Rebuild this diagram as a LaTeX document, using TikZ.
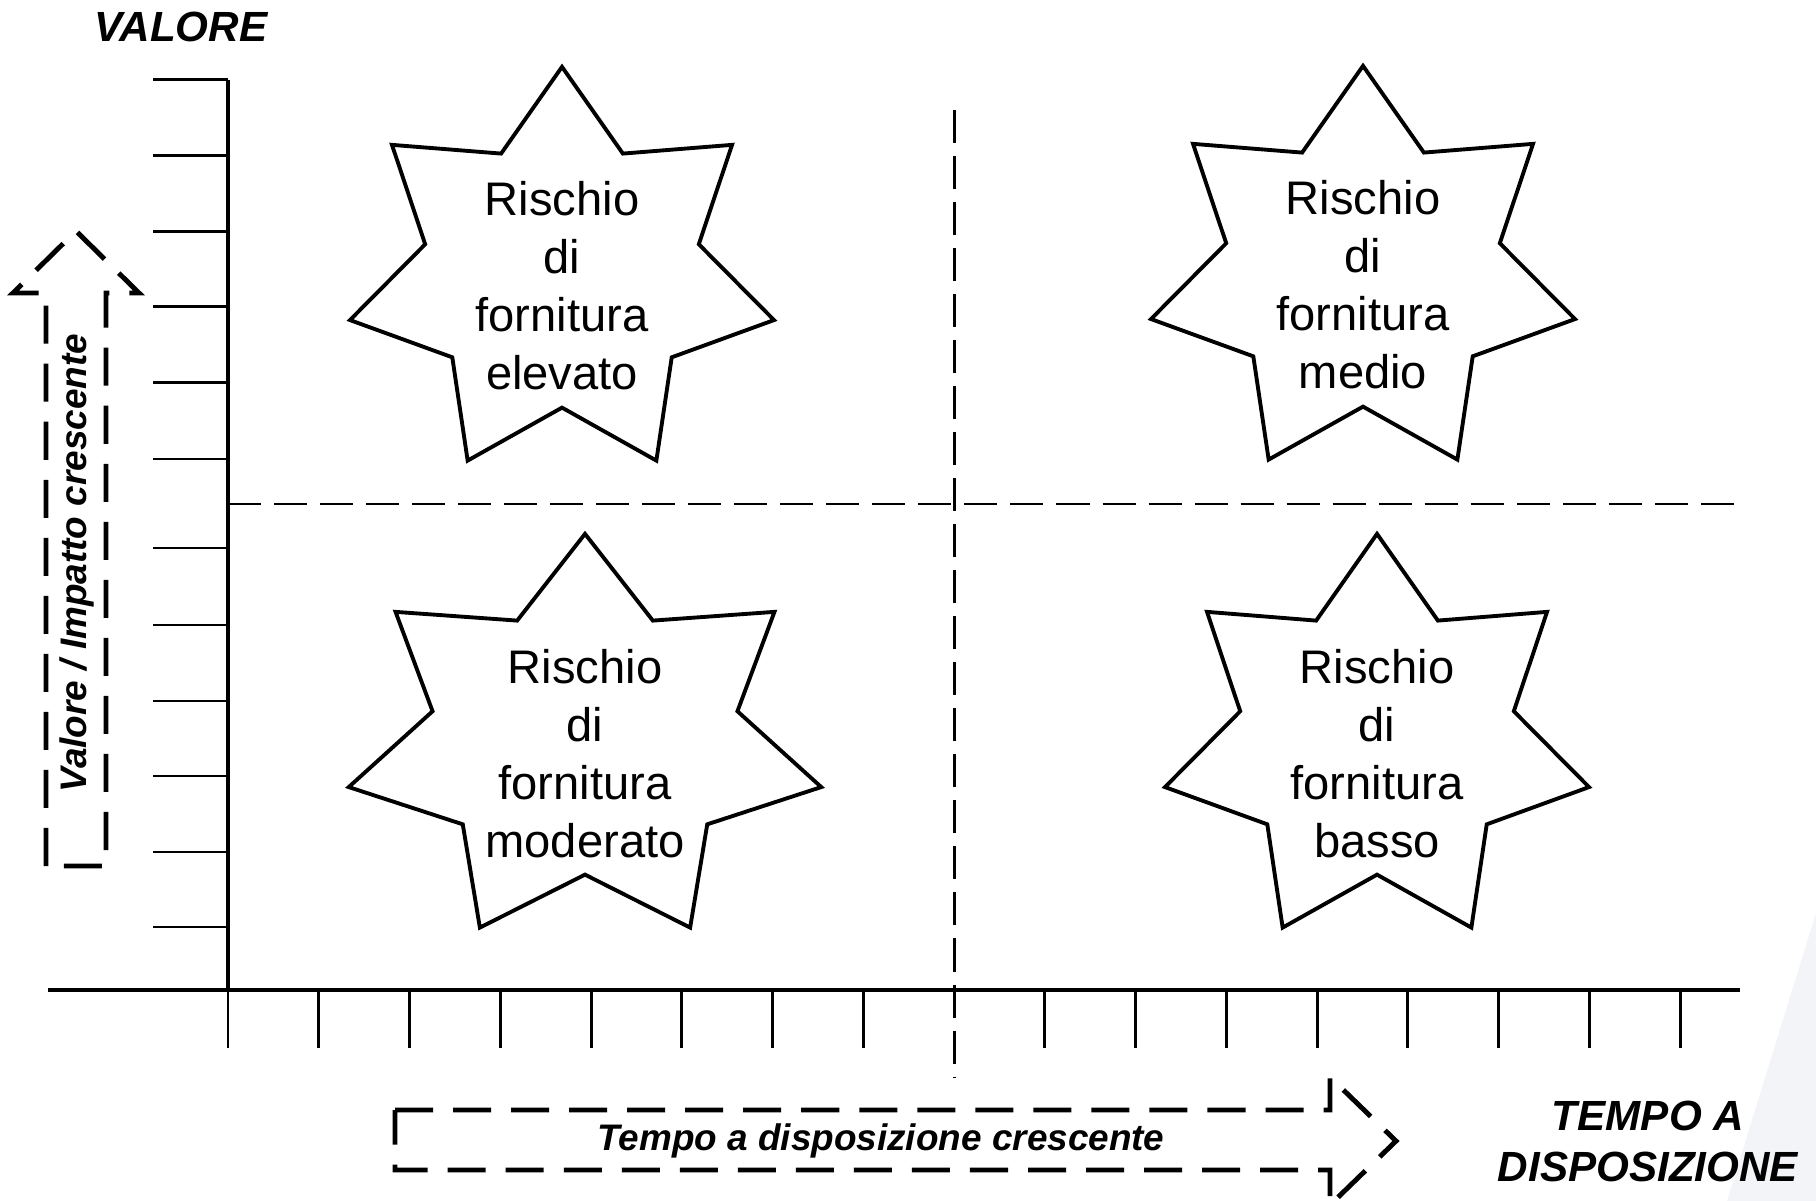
\documentclass[tikz,border=0pt]{standalone}
\usepackage{fontspec}
\setmainfont{Liberation Sans}
\usetikzlibrary{positioning, calc, shapes.geometric}

\definecolor{stripe}{RGB}{242,244,248}

\begin{document}
\begin{tikzpicture}[
  x=0.01cm, y=-0.01cm,
  axis/.style      = {line width=0.95pt},
  axtick/.style    = {line width=0.85pt},
  divider/.style   = {line width=0.85pt, dash pattern=on 3.3mm off 1.3mm},
  risk/.style      = {draw, star, star points=7, star point ratio=1.55,
                      minimum size=4.14cm, inner sep=0pt, line width=1.1pt},
  risktext/.style  = {align=center, font=\fontsize{13.4}{16.5}\selectfont},
  trend/.style     = {line width=1.4pt, dash pattern=on 3.8mm off 2mm},
  trendtext/.style = {font=\fontsize{10.5}{12}\selectfont\bfseries\itshape},
  axislabel/.style = {align=center, font=\fontsize{12}{14.5}\selectfont\bfseries\itshape}
]

  % page
  \fill[white] (0,0) rectangle (1816,1201);
  \fill[stripe] (1816,913) -- (1727,1201) -- (1816,1201) -- cycle;
  \useasboundingbox (0,0) rectangle (1816,1201);

  % Axes
  \coordinate (origin) at (228,990);
  \coordinate (ytop) at (228,80);
  \coordinate (xleft) at (48,990);
  \coordinate (xright) at (1740,990);
  \draw[axis] (ytop) -- (origin);
  \draw[axis] (xleft) -- (xright);

  % Ticks on the value axis
  \foreach \y in {80,156,232,307,383,459,548,625,701,776,852,927}
    \draw[axtick] (153,\y) -- (228,\y);

  % Ticks on the time axis (none under the divider)
  \foreach \k in {0,...,7,9,10,...,16}
    \draw[axtick] ({228+90.75*\k},990) -- ++(0,58);

  % Quadrant dividers
  \coordinate (vtop) at (954,110);
  \coordinate (vbot) at (954,1078);
  \coordinate (hleft) at (228,504);
  \coordinate (hright) at (1740,504);
  \draw[divider] (vtop) -- (vbot);
  \draw[divider] (hleft) -- (hright);

  % Risk stars (slightly widened, the moderato one more)
  \foreach \nm/\px/\py/\sx in {elevato/562/274/1.05, medio/1363/273/1.05,
                               moderato/585/741/1.17, basso/1377/741/1.05} {
    \begin{scope}[shift={(\px,\py)}, xscale=\sx]
      \node[risk, transform shape] (\nm) at (0,0) {};
    \end{scope}
  }

  \node[risktext] (t_elevato)  at ($(elevato)+(0,12)$)  {Rischio\\di\\fornitura\\elevato};
  \node[risktext] (t_medio)    at ($(medio)+(0,12)$)    {Rischio\\di\\fornitura\\medio};
  \node[risktext] (t_moderato) at ($(moderato)+(0,13)$) {Rischio\\di\\fornitura\\moderato};
  \node[risktext] (t_basso)    at ($(basso)+(0,13)$)    {Rischio\\di\\fornitura\\basso};

  % Trend arrows
  \draw[trend] (46,866) -- (46,293) -- (13,293) -- (76,231) -- (139,293)
    -- (106,293) -- (106,866) -- cycle;
  \node[trendtext, rotate=90] (valtrend) at (77,563) {Valore / Impatto crescente};

  \draw[trend] (395,1110) -- (1330,1110) -- (1330,1077) -- (1396,1141)
    -- (1330,1205) -- (1330,1170) -- (395,1170) -- cycle;
  \node[trendtext] (temptrend) at (881,1141) {Tempo a disposizione crescente};

  % Axis labels
  \node[axislabel] (vlabel) at (181,27) {VALORE};
  \node[axislabel] (tlabel) at (1648,1141) {TEMPO A\\DISPOSIZIONE};

\end{tikzpicture}
\end{document}
